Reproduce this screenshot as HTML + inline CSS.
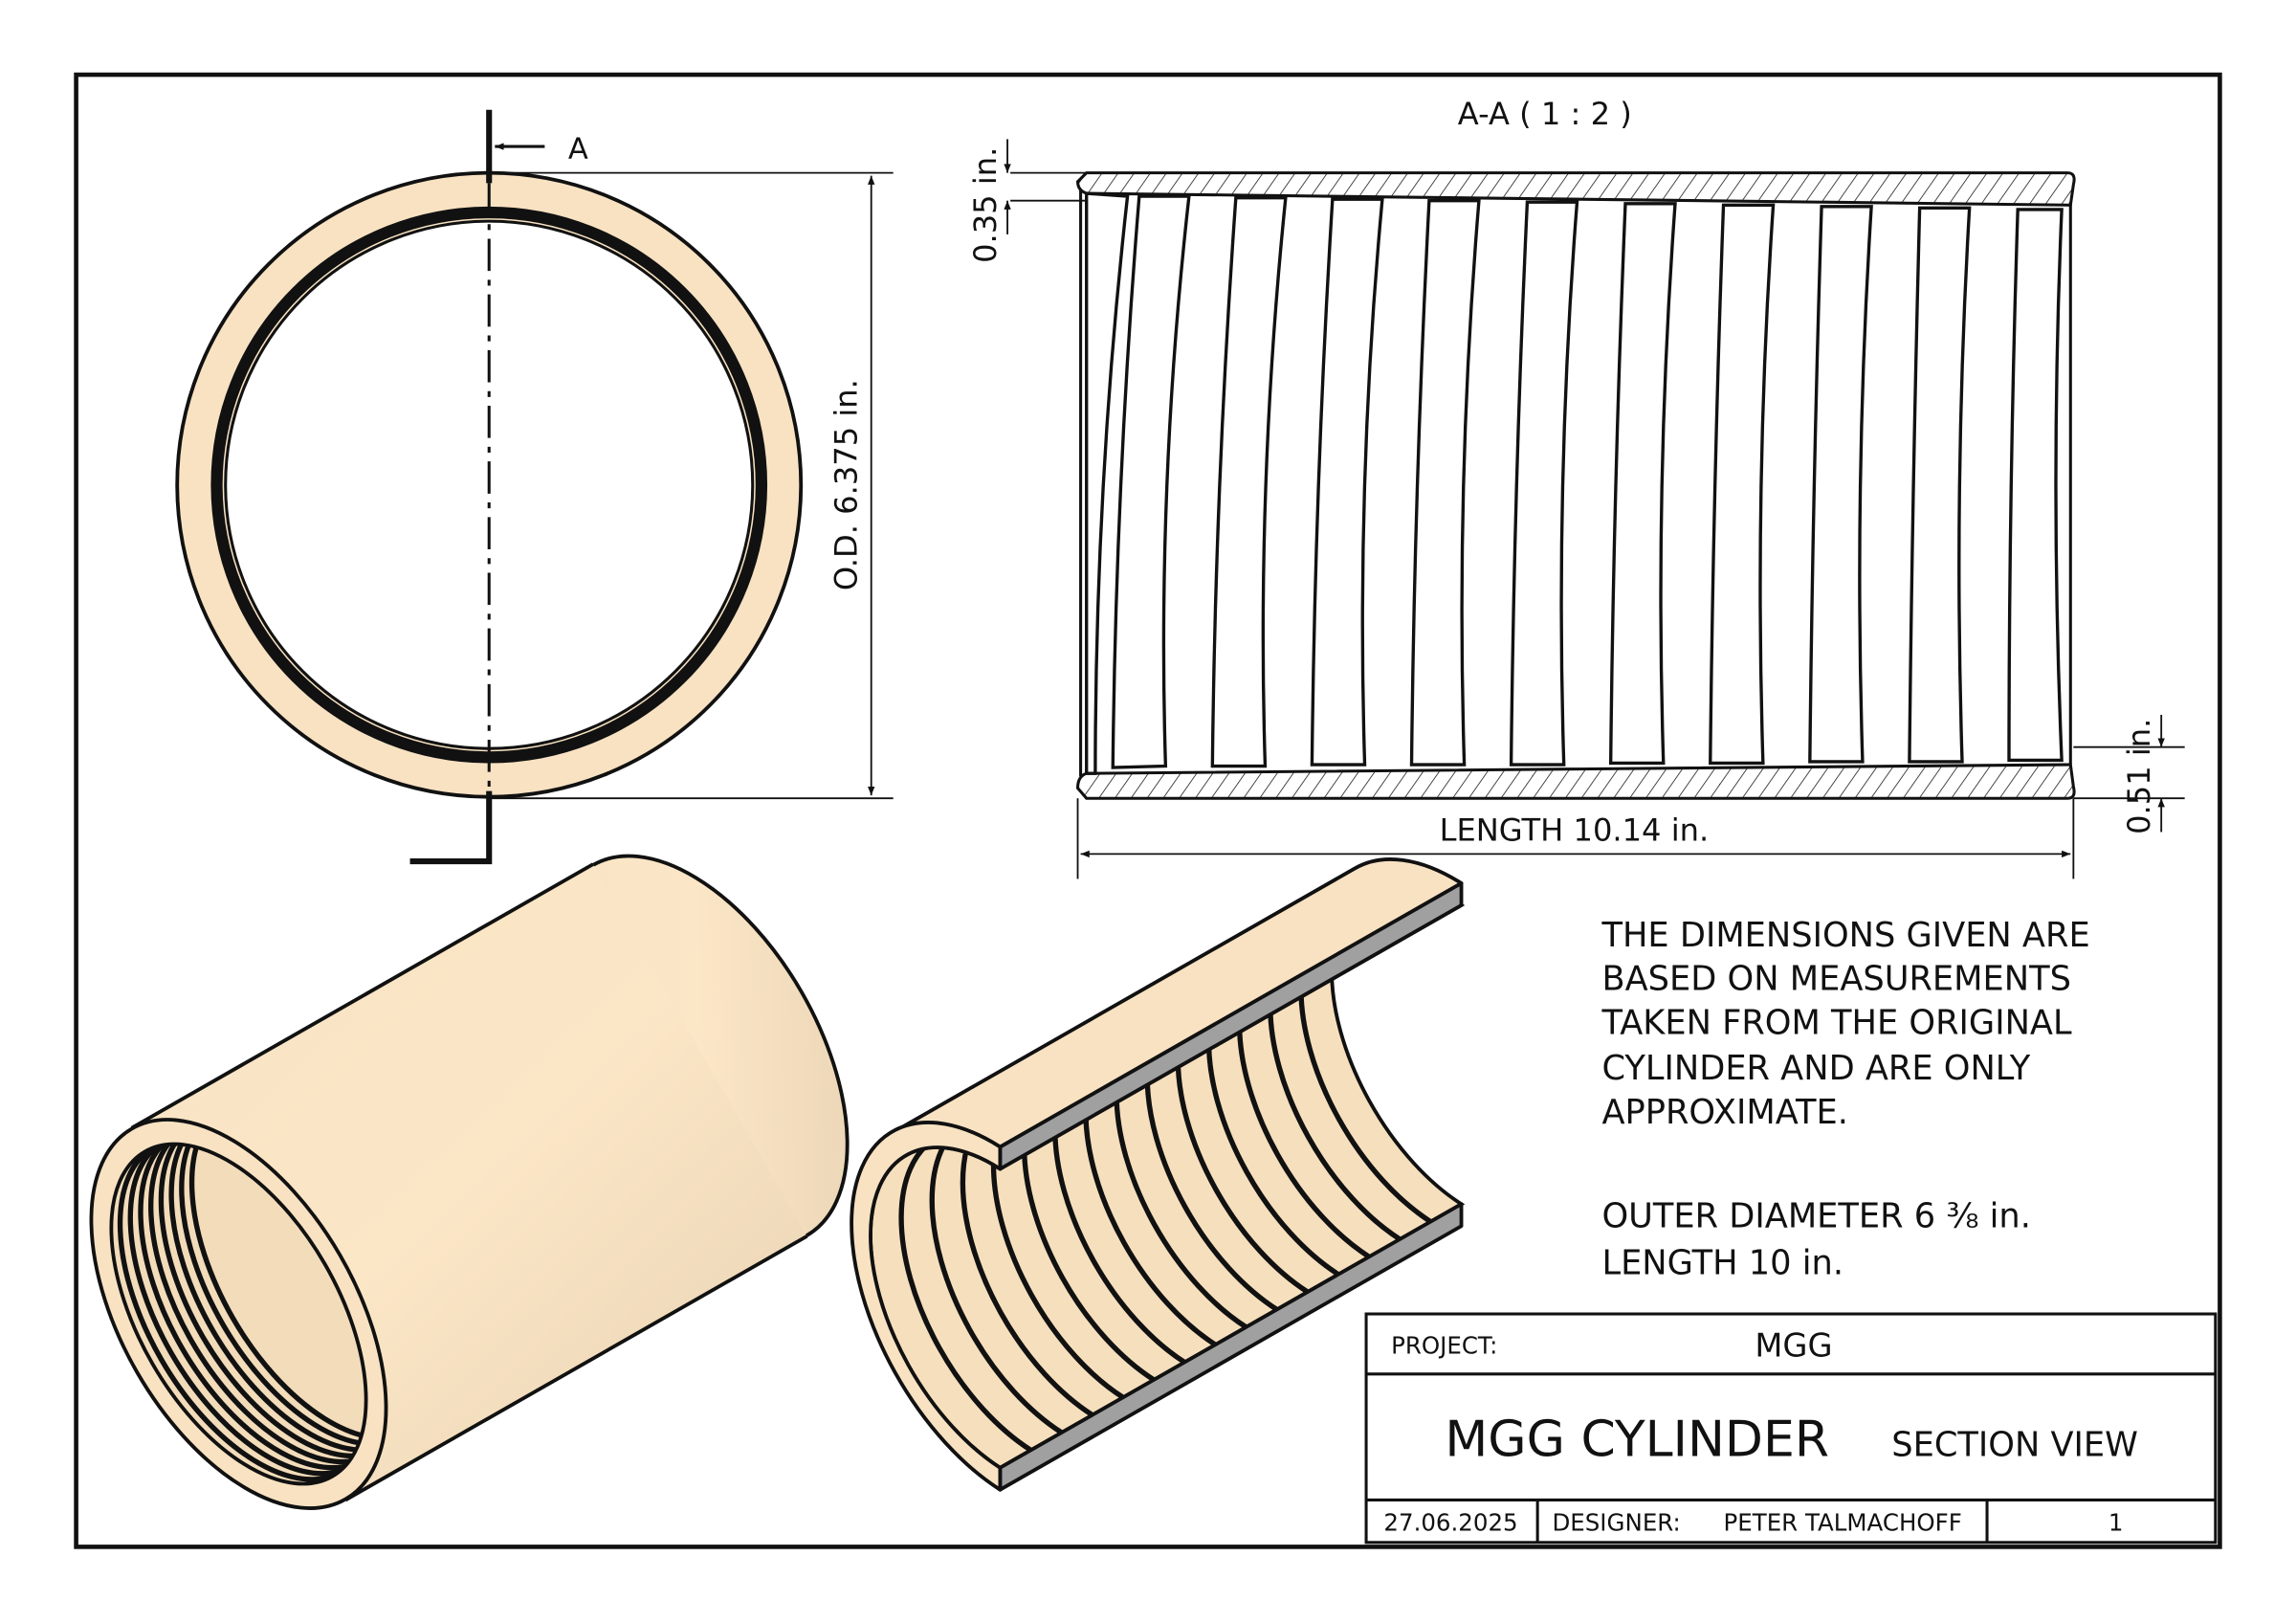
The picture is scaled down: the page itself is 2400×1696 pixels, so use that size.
<!DOCTYPE html>
<html><head><meta charset="utf-8"><style>
html,body{margin:0;padding:0;background:#fff}
svg{display:block}
text{font-family:"DejaVu Sans","Liberation Sans",sans-serif;fill:#111}
</style></head><body>
<svg width="2400" height="1696" viewBox="0 0 1568 1108" preserveAspectRatio="none" xmlns="http://www.w3.org/2000/svg">
<defs>
<pattern id="h" width="9" height="9" patternUnits="userSpaceOnUse" patternTransform="rotate(35)">
<line x1="0" y1="0" x2="0" y2="9" stroke="#111" stroke-width="1"/></pattern>
<marker id="a" viewBox="0 0 10 10" refX="10" refY="5" markerWidth="10" markerHeight="6" orient="auto-start-reverse" markerUnits="userSpaceOnUse"><path d="M0,1 L10,5 L0,9 z" fill="#111"/></marker>
<linearGradient id="g" x1="0" y1="0" x2="1" y2="1">
<stop offset="0" stop-color="#f7e3c4"/><stop offset="0.5" stop-color="#fbe6c6"/><stop offset="1" stop-color="#e6d1b2"/></linearGradient>
<clipPath id="c1"><ellipse cx="163" cy="897" rx="68" ry="128" transform="rotate(-30 163 897)"/></clipPath>
<clipPath id="c2"><path d="M683,798 A70 128 -30 1 0 683,1002 L998,822 A70 128 -30 1 1 998,618 Z"/></clipPath>
</defs>
<rect x="0" y="0" width="1568" height="1108" fill="#fff"/>
<rect x="52" y="51" width="1464" height="1005" fill="none" stroke="#111" stroke-width="3"/>

<!-- front circle view -->
<circle cx="334" cy="331" r="213" fill="#f8e2c2" stroke="#111" stroke-width="2.5"/>
<circle cx="334" cy="331" r="186" fill="none" stroke="#111" stroke-width="8"/>
<circle cx="334" cy="331" r="180" fill="#fff" stroke="#111" stroke-width="2"/>
<line x1="334" y1="75" x2="334" y2="125" stroke="#111" stroke-width="4"/>
<line x1="334" y1="125" x2="334" y2="540" stroke="#111" stroke-width="2" stroke-dasharray="22,6,4,6"/>
<polyline points="334,540 334,588 280,588" fill="none" stroke="#111" stroke-width="4"/>
<line x1="372" y1="100" x2="338" y2="100" stroke="#111" stroke-width="2" marker-end="url(#a)"/>
<text x="388" y="108" font-size="20">A</text>
<line x1="334" y1="118" x2="610" y2="118" stroke="#111" stroke-width="1.2"/>
<line x1="334" y1="545" x2="610" y2="545" stroke="#111" stroke-width="1.2"/>
<line x1="595" y1="120" x2="595" y2="543" stroke="#111" stroke-width="1.2" marker-start="url(#a)" marker-end="url(#a)"/>
<text x="0" y="0" font-size="21" text-anchor="middle" transform="translate(585,331) rotate(-90)">O.D. 6.375 in.</text>

<!-- section view -->
<text x="1055" y="85" font-size="21" text-anchor="middle">A-A ( 1 : 2 )</text>
<path d="M742,118 H1412 Q1418,118 1416,126 L1414,140 L742,132 Q736,130 736,124 Z" fill="url(#h)" stroke="#111" stroke-width="2"/>
<path d="M742,545 H1412 Q1418,545 1416,537 L1414,522 L742,528 Q736,530 736,538 Z" fill="url(#h)" stroke="#111" stroke-width="2"/>
<line x1="738" y1="130" x2="738" y2="530" stroke="#111" stroke-width="2"/>
<line x1="1414" y1="138" x2="1414" y2="522" stroke="#111" stroke-width="2"/>
<g fill="#fff" stroke="#111" stroke-width="2.2">
<path d="M742,132 L770,134 Q748,330 748,528 L742,528 Z"/>
<path d="M778,134 L812,134 Q790,330 796,523 L760,524 Q762,330 778,134 Z"/>
<path d="M844,135 L878,135 Q858,330 864,523 L828,523 Q830,330 844,135 Z"/>
<path d="M910,136 L944,136 Q926,330 932,522 L896,522 Q898,330 910,136 Z"/>
<path d="M976,137 L1010,137 Q994,330 1000,522 L964,522 Q966,330 976,137 Z"/>
<path d="M1043,138 L1077,138 Q1062,330 1068,522 L1032,522 Q1034,330 1043,138 Z"/>
<path d="M1110,139 L1144,139 Q1130,330 1136,521 L1100,521 Q1102,330 1110,139 Z"/>
<path d="M1177,140 L1211,140 Q1198,330 1204,521 L1168,521 Q1170,330 1177,140 Z"/>
<path d="M1244,141 L1278,141 Q1266,330 1272,520 L1236,520 Q1238,330 1244,141 Z"/>
<path d="M1311,142 L1345,142 Q1334,330 1340,520 L1304,520 Q1306,330 1311,142 Z"/>
<path d="M1378,143 L1408,143 Q1400,330 1408,519 L1372,519 Q1372,330 1378,143 Z"/>
</g>
<!-- dims section -->
<line x1="690" y1="118" x2="742" y2="118" stroke="#111" stroke-width="1.2"/>
<line x1="690" y1="137" x2="742" y2="137" stroke="#111" stroke-width="1.2"/>
<line x1="688" y1="95" x2="688" y2="118" stroke="#111" stroke-width="1.2" marker-end="url(#a)"/>
<line x1="688" y1="160" x2="688" y2="137" stroke="#111" stroke-width="1.2" marker-end="url(#a)"/>
<text x="0" y="0" font-size="21" text-anchor="middle" transform="translate(680,140) rotate(-90)">0.35 in.</text>
<line x1="1416" y1="510" x2="1492" y2="510" stroke="#111" stroke-width="1.2"/>
<line x1="1416" y1="545" x2="1492" y2="545" stroke="#111" stroke-width="1.2"/>
<line x1="1476" y1="488" x2="1476" y2="510" stroke="#111" stroke-width="1.2" marker-end="url(#a)"/>
<line x1="1476" y1="568" x2="1476" y2="545" stroke="#111" stroke-width="1.2" marker-end="url(#a)"/>
<text x="0" y="0" font-size="21" text-anchor="middle" transform="translate(1468,530) rotate(-90)">0.51 in.</text>
<line x1="736" y1="545" x2="736" y2="600" stroke="#111" stroke-width="1.2"/>
<line x1="1416" y1="545" x2="1416" y2="600" stroke="#111" stroke-width="1.2"/>
<line x1="738" y1="583" x2="1414" y2="583" stroke="#111" stroke-width="1.2" marker-start="url(#a)" marker-end="url(#a)"/>
<text x="1075" y="574" font-size="21" text-anchor="middle">LENGTH 10.14 in.</text>

<!-- iso cylinder 1 -->
<g stroke="#111" stroke-width="2.5">
<ellipse cx="478" cy="717" rx="80" ry="146" transform="rotate(-30 478 717)" fill="url(#g)"/>
<path d="M90,770 L405,590 L551,844 L236,1024 Z" fill="url(#g)" stroke="none"/>
<line x1="90" y1="770" x2="405" y2="590"/>
<line x1="236" y1="1024" x2="551" y2="844"/>
<ellipse cx="163" cy="897" rx="80" ry="146" transform="rotate(-30 163 897)" fill="#f8e2c2"/>
<ellipse cx="163" cy="897" rx="68" ry="128" transform="rotate(-30 163 897)" fill="#f3dcba"/>
</g>
<g clip-path="url(#c1)" fill="none" stroke="#111" stroke-width="3.5">
<ellipse cx="169" cy="894" rx="68" ry="128" transform="rotate(-30 169 894)"/>
<ellipse cx="176" cy="890" rx="68" ry="128" transform="rotate(-30 176 890)"/>
<ellipse cx="183" cy="886" rx="68" ry="128" transform="rotate(-30 183 886)"/>
<ellipse cx="190" cy="882" rx="68" ry="128" transform="rotate(-30 190 882)"/>
<ellipse cx="197" cy="878" rx="68" ry="128" transform="rotate(-30 197 878)"/>
<ellipse cx="204" cy="874" rx="68" ry="128" transform="rotate(-30 204 874)"/>
<ellipse cx="211" cy="870" rx="68" ry="128" transform="rotate(-30 211 870)"/>
<ellipse cx="218" cy="866" rx="68" ry="128" transform="rotate(-30 218 866)"/>
</g>

<!-- iso cylinder 2 (section) -->
<path d="M683,798 A70 128 -30 1 0 683,1002 L998,822 A70 128 -30 1 1 998,618 Z" fill="#f6dfbd" stroke="#111" stroke-width="2.5"/>
<g clip-path="url(#c2)" fill="none" stroke="#111" stroke-width="3.5">
<path d="M704,786 A70 128 -30 1 0 704,990"/>
<path d="M725,774 A70 128 -30 1 0 725,978"/>
<path d="M746,762 A70 128 -30 1 0 746,966"/>
<path d="M767,750 A70 128 -30 1 0 767,954"/>
<path d="M788,738 A70 128 -30 1 0 788,942"/>
<path d="M809,726 A70 128 -30 1 0 809,930"/>
<path d="M830,714 A70 128 -30 1 0 830,918"/>
<path d="M851,702 A70 128 -30 1 0 851,906"/>
<path d="M872,690 A70 128 -30 1 0 872,894"/>
<path d="M893,678 A70 128 -30 1 0 893,882"/>
<path d="M914,666 A70 128 -30 1 0 914,870"/>
<path d="M935,654 A70 128 -30 1 0 935,858"/>
<path d="M956,642 A70 128 -30 1 0 956,846"/>
<path d="M977,630 A70 128 -30 1 0 977,834"/>
</g>
<g stroke="#111" stroke-width="2.5" stroke-linejoin="round">
<path d="M610,773 L925,593 A80 146 -30 0 1 998,603 L683,783 A80 146 -30 0 0 610,773 Z" fill="#f8e2c2"/>
<path d="M683,783 L998,603 L998,618 L683,798 Z" fill="#a0a0a0"/>
<path d="M683,1002 L998,822 L998,837 L683,1017 Z" fill="#a0a0a0"/>
<path d="M683,783 A80 146 -30 1 0 683,1017 L683,1002 A70 128 -30 1 1 683,798 Z" fill="#f8e2c2"/>
</g>

<!-- notes -->
<g font-size="23">
<text x="1094" y="646">THE DIMENSIONS GIVEN ARE</text>
<text x="1094" y="676">BASED ON MEASUREMENTS</text>
<text x="1094" y="706">TAKEN FROM THE ORIGINAL</text>
<text x="1094" y="737">CYLINDER AND ARE ONLY</text>
<text x="1094" y="767">APPROXIMATE.</text>
<text x="1094" y="838">OUTER DIAMETER 6 ⅜ in.</text>
<text x="1094" y="870">LENGTH 10 in.</text>
</g>

<!-- title block -->
<rect x="933" y="897" width="580" height="156" fill="#fff" stroke="#111" stroke-width="2"/>
<line x1="933" y1="938" x2="1513" y2="938" stroke="#111" stroke-width="2"/>
<line x1="933" y1="1024" x2="1513" y2="1024" stroke="#111" stroke-width="2"/>
<line x1="1050" y1="1024" x2="1050" y2="1053" stroke="#111" stroke-width="2"/>
<line x1="1357" y1="1024" x2="1357" y2="1053" stroke="#111" stroke-width="2"/>
<text x="950" y="924" font-size="16">PROJECT:</text>
<text x="1225" y="926" font-size="22" text-anchor="middle">MGG</text>
<text x="1118" y="994" font-size="34" text-anchor="middle">MGG CYLINDER</text>
<text x="1376" y="994" font-size="23" text-anchor="middle">SECTION VIEW</text>
<text x="945" y="1045" font-size="16">27.06.2025</text>
<text x="1060" y="1045" font-size="16">DESIGNER:</text>
<text x="1177" y="1045" font-size="16">PETER TALMACHOFF</text>
<text x="1445" y="1045" font-size="16" text-anchor="middle">1</text>
</svg>
</body></html>
